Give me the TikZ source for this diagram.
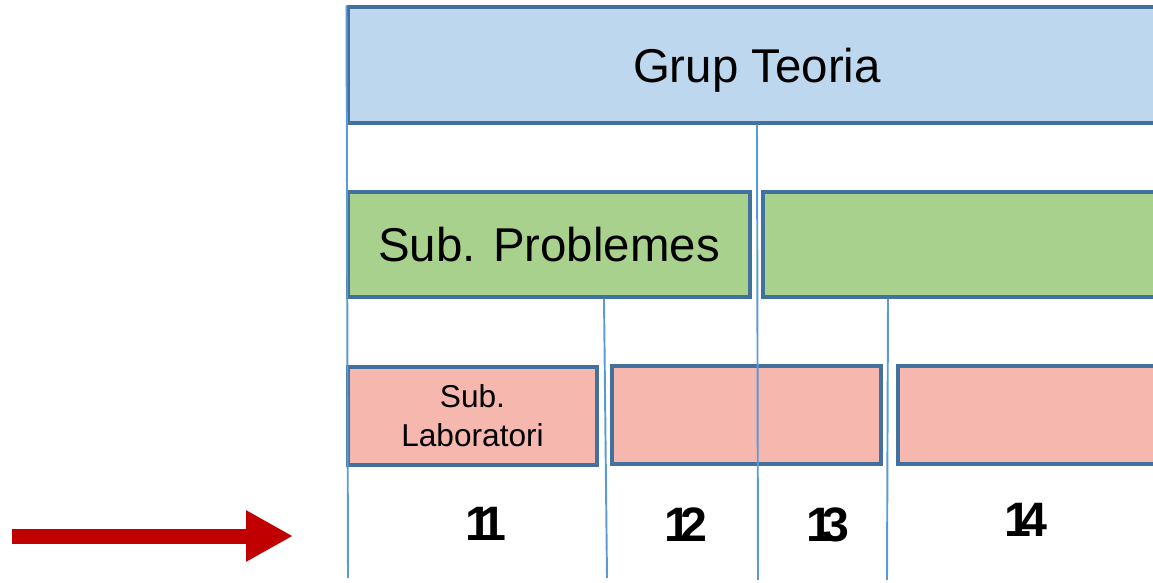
\documentclass[tikz,border=0pt]{standalone}
\usepackage{fontspec}
\setmainfont{Liberation Sans}
\newfontfamily\numfont[LetterSpace=-22]{Liberation Sans Bold}
\usetikzlibrary{arrows.meta}
\definecolor{teoriablue}{HTML}{BDD7EE}
\definecolor{probgreen}{HTML}{A9D18E}
\definecolor{labpink}{HTML}{F6B7AF}
\definecolor{boxedge}{HTML}{41719C}
\definecolor{divline}{HTML}{5B9BD5}
\definecolor{arrowred}{HTML}{C00000}

\begin{document}
\begin{tikzpicture}[
    x=0.02cm, y=-0.02cm,
    grp/.style={rectangle, draw=boxedge, line width=1.8pt, inner sep=0pt, align=center},
    big/.style={font=\fontsize{27}{32}\selectfont, text depth=0pt},
    small/.style={font=\fontsize{18}{22}\selectfont},
    week/.style={font=\numfont\fontsize{27.5}{30}\selectfont, text depth=0pt},
    divider/.style={draw=divline, line width=1.1pt}
]
    \clip (0,0) rectangle (1153,582);

    % Theory group
    \node[grp, big, fill=teoriablue, minimum width=16.36cm, minimum height=2.32cm] (teoria) at (757,65) {Grup Teoria};

    % Problem subgroups
    \node[grp, big, fill=probgreen, minimum width=8.04cm, minimum height=2.1cm] (prob1) at (549,244.5) {Sub. Problemes};
    \node[grp, fill=probgreen, minimum width=8.06cm, minimum height=2.1cm] (prob2) at (964.5,244.5) {};

    % Lab subgroups
    \node[grp, small, fill=labpink, minimum width=4.98cm, minimum height=1.96cm] (lab1) at (472.5,416) {Sub.\\Laboratori};
    \node[grp, fill=labpink, minimum width=5.38cm, minimum height=1.96cm] (lab2) at (746.5,415) {};
    \node[grp, fill=labpink, minimum width=5.36cm, minimum height=1.96cm] (lab3) at (1032,415) {};

    % Weeks
    \node[week] (w11) at (486,524) {11};
    \node[week] (w12) at (686,525) {12};
    \node[week] (w13) at (828,525) {13};
    \node[week] (w14) at (1026,520) {14};

    % Dividers
    \coordinate (d0) at (348,578);
    \coordinate (d1) at (607,578);
    \coordinate (d2) at (758,580);
    \coordinate (d3) at (887,580);
    \draw[divider] (teoria.north west) -- (d0);
    \draw[divider] (prob1.south east -| 604,0) -- (d1);
    \draw[divider] (teoria.south) -- (d2);
    \draw[divider] (prob2.south west -| 888,0) -- (d3);

    % Current week
    \coordinate (a0) at (12,536);
    \coordinate (a1) at (293,536);
    \draw[arrowred, line width=0.3cm, -{Triangle[length=0.94cm, width=0.96cm]}] (a0) -- (a1);
\end{tikzpicture}
\end{document}
